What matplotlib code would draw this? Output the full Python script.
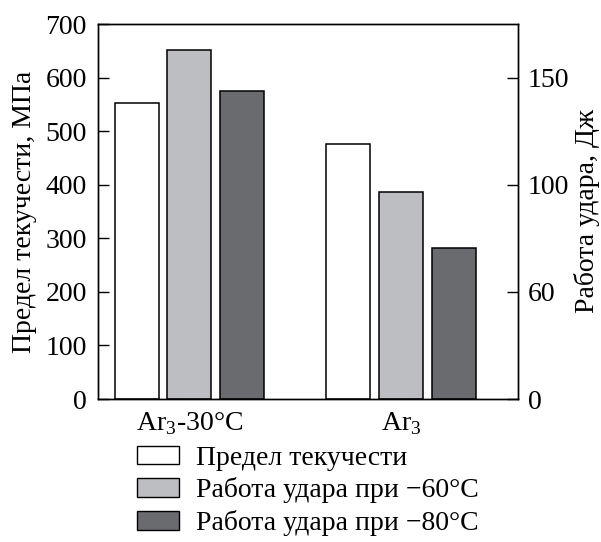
import numpy as np
import matplotlib
matplotlib.use('Agg')
import matplotlib.pyplot as plt
from matplotlib.patches import Patch

# режимы прокатки и высоты столбцов (в единицах левой оси)
groups = [r'Ar$_{\mathrm{3}}$-30°C', r'Ar$_{\mathrm{3}}$']
yield_strength = [553, 476]
impact_60 = [652, 386]
impact_80 = [575, 282]

series_names = ['Предел текучести', 'Работа удара при −60°C', 'Работа удара при −80°C']
series_colors = ['#ffffff', '#bdbec2', '#6a6b6f']

left_ticks = [0, 100, 200, 300, 400, 500, 600, 700]
right_tick_pos = [0, 200, 400, 600]
right_tick_labels = ['0', '60', '100', '150']

plt.rcParams.update({
    'font.family': ['Liberation Serif', 'DejaVu Serif'],
    'mathtext.fontset': 'custom',
    'mathtext.rm': 'Liberation Serif',
    'font.size': 20,
    'axes.linewidth': 1.0,
})

fig = plt.figure(figsize=(6.01, 5.42), dpi=100)
ax = fig.add_axes([0.163, 0.2638, 0.699, 0.6919])

x = np.arange(len(groups))
width = 0.208
step = 0.249
for i, (vals, color) in enumerate(zip([yield_strength, impact_60, impact_80], series_colors)):
    ax.bar(x + (i - 1) * step, vals, width=width, color=color,
           edgecolor='black', linewidth=1.1, zorder=2)

ax.set_xlim(-0.432, 1.554)
ax.set_ylim(0, 700)
ax.set_xticks(x)
ax.set_xticklabels(groups)
ax.tick_params(axis='x', length=0, pad=8)
ax.set_yticks(left_ticks)
ax.tick_params(axis='y', direction='in', length=8, width=1.0, pad=8)
ax.set_ylabel('Предел текучести, МПа', labelpad=6)

ax2 = ax.twinx()
ax2.set_ylim(0, 700)
ax2.set_yticks(right_tick_pos)
ax2.set_yticklabels(right_tick_labels)
ax2.tick_params(axis='y', direction='in', length=8, width=1.0, pad=7)
# подпись правой оси ставим вручную у самого края
fig.text(0.977, 0.61, 'Работа удара, Дж', rotation=90, ha='center', va='center')

handles = [Patch(facecolor=c, edgecolor='black', linewidth=1.0) for c in series_colors]
fig.legend(handles, series_names, loc='upper left', bbox_to_anchor=(0.228, 0.178),
           frameon=False, handlelength=1.5, handleheight=0.67, handletextpad=0.62,
           labelspacing=0.24, borderpad=0, borderaxespad=0)

fig.savefig('out.png', dpi=100, facecolor='white')
